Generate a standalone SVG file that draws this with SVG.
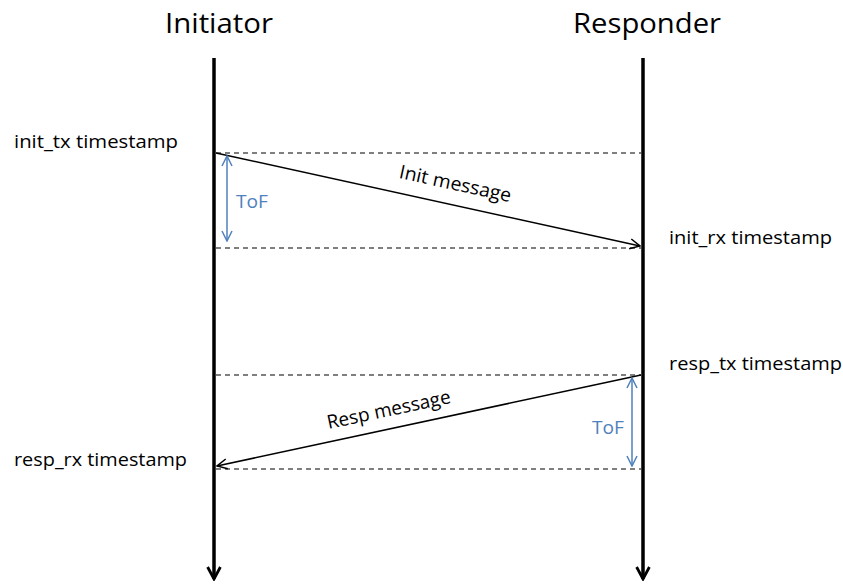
<svg xmlns="http://www.w3.org/2000/svg" width="843" height="584" viewBox="0 0 843 584">
<defs>
<marker id="open" viewBox="0 0 12 12" refX="11" refY="6" markerWidth="12" markerHeight="12" markerUnits="userSpaceOnUse" orient="auto">
<path d="M1,1 L11,6 L1,11" fill="none" stroke="#000" stroke-width="1.5"/>
</marker>
<marker id="blue" viewBox="0 0 12 12" refX="11" refY="6" markerWidth="12" markerHeight="12" markerUnits="userSpaceOnUse" orient="auto-start-reverse">
<path d="M1,1 L11,6 L1,11" fill="none" stroke="#4F81BD" stroke-width="1.5"/>
</marker>
<marker id="life" viewBox="0 0 8 8" refX="7" refY="4" markerWidth="16" markerHeight="16" markerUnits="userSpaceOnUse" orient="auto">
<path d="M1,0.8 L7,4 L1,7.2" fill="none" stroke="#000" stroke-width="1.4"/>
</marker>
</defs>
<style>
text{font-family:"Open Sans","Liberation Sans",sans-serif;fill:#000}
.title{font-size:28px}
.lbl{font-size:19px}
.tof{font-size:18px;fill:#4F81BD}
.dash{stroke:#555;stroke-width:1.3;stroke-dasharray:5,4;fill:none}
.msg{stroke:#000;stroke-width:1.5;fill:none}
.lifeline{stroke:#000;stroke-width:3.5;fill:none}
.tofl{stroke:#4F81BD;stroke-width:1.5;fill:none}
</style>
<rect width="843" height="584" fill="#fff"/>
<g id="initiator">
<text class="title" x="165" y="33" textLength="108" lengthAdjust="spacingAndGlyphs">Initiator</text>
<line class="lifeline" x1="214" y1="58" x2="214" y2="579" marker-end="url(#life)"/>
</g>
<g id="responder">
<text class="title" x="573" y="33" textLength="148" lengthAdjust="spacingAndGlyphs">Responder</text>
<line class="lifeline" x1="643" y1="58" x2="643" y2="579" marker-end="url(#life)"/>
</g>
<g id="labels">
<text class="lbl" x="14" y="148" textLength="164" lengthAdjust="spacingAndGlyphs">init_tx timestamp</text>
<text class="lbl" x="669" y="244" textLength="163" lengthAdjust="spacingAndGlyphs">init_rx timestamp</text>
<text class="lbl" x="669" y="370" textLength="173" lengthAdjust="spacingAndGlyphs">resp_tx timestamp</text>
<text class="lbl" x="14" y="466" textLength="173" lengthAdjust="spacingAndGlyphs">resp_rx timestamp</text>
</g>
<g id="connectors">
<line class="dash" x1="216" y1="153" x2="641" y2="153"/>
<line class="dash" x1="216" y1="248" x2="641" y2="248"/>
<line class="dash" x1="216" y1="375" x2="641" y2="375"/>
<line class="dash" x1="216" y1="469" x2="641" y2="469"/>
<line class="msg" x1="216" y1="153" x2="640" y2="246" marker-end="url(#open)"/>
<line class="msg" x1="641" y1="375" x2="217" y2="466" marker-end="url(#open)"/>
<line class="tofl" x1="227" y1="156" x2="227" y2="241" marker-start="url(#blue)" marker-end="url(#blue)"/>
<line class="tofl" x1="632" y1="378" x2="632" y2="466" marker-start="url(#blue)" marker-end="url(#blue)"/>
</g>
<g id="msg-labels">
<text class="lbl" transform="translate(454,190) rotate(12.3)" text-anchor="middle" textLength="114" lengthAdjust="spacingAndGlyphs">Init message</text>
<text class="lbl" transform="translate(390,416) rotate(-12)" text-anchor="middle" textLength="126" lengthAdjust="spacingAndGlyphs">Resp message</text>
<text class="tof" x="236" y="208" textLength="32" lengthAdjust="spacingAndGlyphs">ToF</text>
<text class="tof" x="592" y="434" textLength="32" lengthAdjust="spacingAndGlyphs">ToF</text>
</g>
</svg>
